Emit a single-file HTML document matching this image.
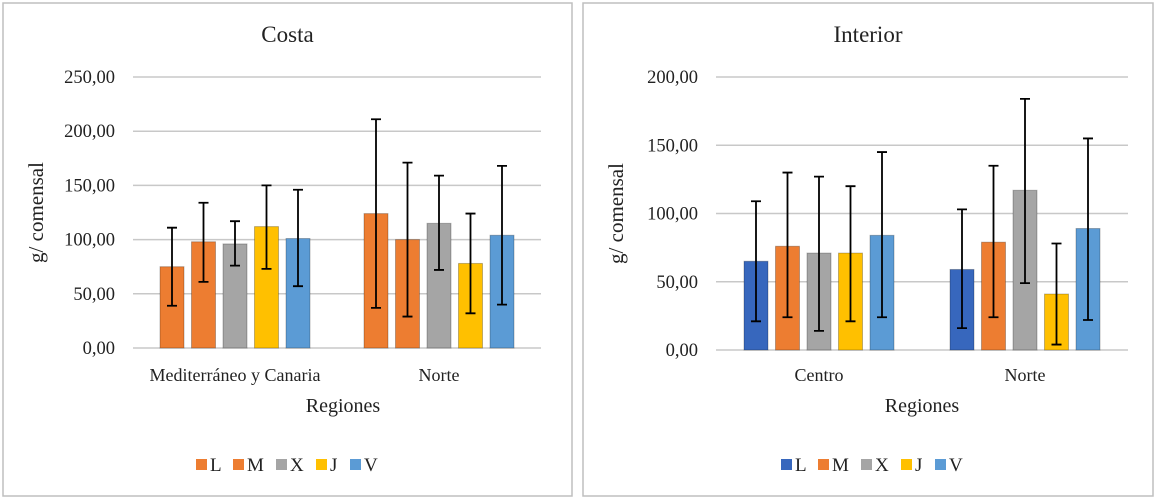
<!DOCTYPE html>
<html><head><meta charset="utf-8"><style>
body{margin:0;background:#fff;width:1156px;height:499px;overflow:hidden;font-family:"Liberation Serif",serif}
svg text{font-family:"Liberation Serif",serif;fill:#222}
</style></head><body>
<svg id="s" width="1156" height="499"></svg>
<script>
const colors={L:'#ed7d31',M:'#ed7d31',X:'#a5a5a5',J:'#ffc000',V:'#5b9bd5',LB:'#3767bd'};
const seriesKeys=['L','M','X','J','V'];
const costaCats=['Mediterráneo y Canaria','Norte'];
const costaVals=[[75,98,96,112,101],[124,100,115,78,104]];
const costaLo=[[39,61,76,73,57],[37,29,72,32,40]];
const costaHi=[[111,134,117,150,146],[211,171,159,124,168]];
const costaTicks=['0,00','50,00','100,00','150,00','200,00','250,00'];
const intCats=['Centro','Norte'];
const intVals=[[65,76,71,71,84],[59,79,117,41,89]];
const intLo=[[21,24,14,21,24],[16,24,49,4,22]];
const intHi=[[109,130,127,120,145],[103,135,184,78,155]];
const intTicks=['0,00','50,00','100,00','150,00','200,00'];
const svg=document.getElementById('s');
const NS='http://www.w3.org/2000/svg';
function mk(t,a,p){const e=document.createElementNS(NS,t);for(const k in a)e.setAttribute(k,a[k]);(p||svg).appendChild(e);return e;}
function panel(o){
 const g=mk('g',{});
 
 
 const fr=mk('rect',{x:o.bx,y:3,width:o.bw,height:493,fill:'#fff',stroke:'#bfbfbf','stroke-width':1.5},g);
 
 
 const t=mk('text',{x:o.bx+o.bw/2,y:42,'text-anchor':'middle','font-size':23},g);t.textContent=o.title;
 
 
 const y=v=>o.y0-(v/o.max)*(o.y0-o.ytop);
 o.ticks.forEach((lab,i)=>{const v=i*o.max/(o.ticks.length-1);
  const l=mk('line',{x1:o.x0,x2:o.x1,y1:y(v),y2:y(v),stroke:'#c8c8c8','stroke-width':1.5},g);
  
  
  const tx=mk('text',{x:o.x0-18,y:y(v)+6,'text-anchor':'end','font-size':18.5},g);tx.textContent=lab;
  
  });
 const gw=(o.x1-o.x0)/o.cats.length, bw=24, step=31.5;
 o.cats.forEach((c,ci)=>{const cx=o.x0+gw*(ci+0.5);
  const ct=mk('text',{x:cx,y:381,'text-anchor':'middle','font-size':18},g);ct.textContent=c;
  
  
  seriesKeys.forEach((k,si)=>{const bx=cx+(si-2)*step;const v=o.vals[ci][si];
   const col=(o.blueL&&k==='L')?colors.LB:colors[k];
   const r=mk('rect',{x:bx-bw/2,y:y(v),width:bw,height:o.y0-y(v),fill:col,stroke:'rgba(0,0,0,0.25)','stroke-width':1},g);
   
   
   const lo=y(o.lo[ci][si]),hi=y(o.hi[ci][si]);
   const e=mk('path',{d:`M${bx},${lo}V${hi}M${bx-5},${lo}H${bx+5}M${bx-5},${hi}H${bx+5}`,stroke:'#000','stroke-width':1.8,fill:'none'},g);
   
   });});
 const yt=mk('text',{transform:`translate(${o.bx+40},${(o.y0+o.ytop)/2}) rotate(-90)`,'text-anchor':'middle','font-size':21},g);yt.textContent='g/ comensal';
 
 
 const xt=mk('text',{x:o.xtc,y:412,'text-anchor':'middle','font-size':20},g);xt.textContent='Regiones';
 
 
 let lx=o.lx;
 const gaps={L:37,M:43,X:40,J:34,V:0};
 seriesKeys.forEach(k=>{const col=(o.blueL&&k==='L')?colors.LB:colors[k];
  const sq=mk('rect',{x:lx,y:459,width:11,height:11,fill:col},g);
  
  
  const lt=mk('text',{x:lx+14,y:471,'font-size':19},g);lt.textContent=k;
  
  
  lx+=gaps[k];});
}
panel({name:'costa-chart',title:'Costa',bx:3,bw:569,x0:133,x1:541,y0:348,ytop:77,max:250,ticks:costaTicks,cats:costaCats,vals:costaVals,lo:costaLo,hi:costaHi,blueL:false,xtc:343,lx:196});
panel({name:'interior-chart',title:'Interior',bx:583,bw:570,x0:716,x1:1128,y0:350,ytop:77,max:200,ticks:intTicks,cats:intCats,vals:intVals,lo:intLo,hi:intHi,blueL:true,xtc:922,lx:781});
</script>
</body></html>
